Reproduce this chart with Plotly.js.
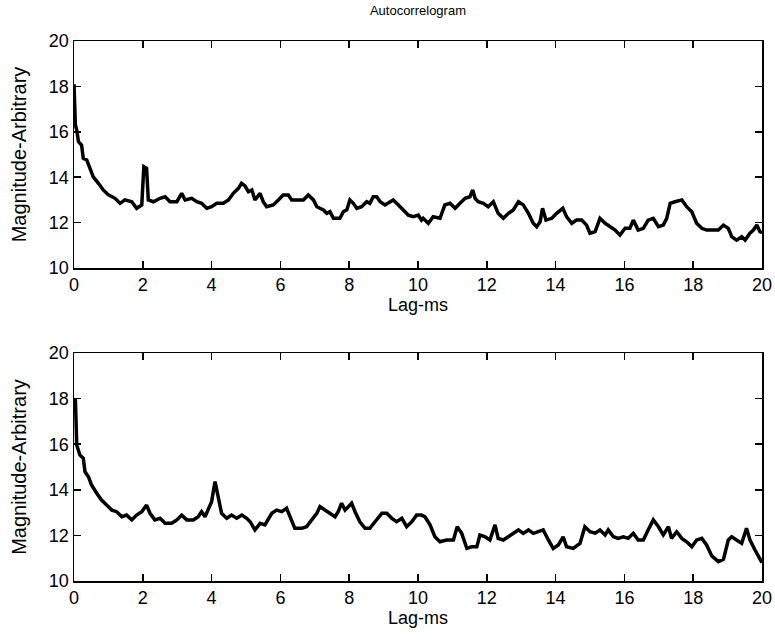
<!DOCTYPE html>
<html>
<head>
<meta charset="utf-8">
<script src="https://cdn.plot.ly/plotly-3.0.1.min.js"></script>
<style>html,body{margin:0;padding:0;background:#fff;}#chart{width:775px;height:644px;}</style>
</head>
<body>
<div id="chart"></div>
<script>
// Upper panel: lag (ms) and magnitude
const lagTop = [0.00,0.04,0.08,0.13,0.22,0.27,0.37,0.47,0.56,0.71,0.85,1.00,1.19,1.34,1.48,1.68,1.82,1.97,2.03,2.11,2.16,2.31,2.50,2.65,2.79,2.99,3.13,3.23,3.42,3.57,3.71,3.86,4.00,4.15,4.34,4.49,4.63,4.78,4.87,4.97,
5.07,5.17,5.26,5.41,5.50,5.60,5.79,5.94,6.08,6.23,6.33,6.67,6.81,6.96,7.06,7.25,7.35,7.44,7.54,7.73,7.83,7.93,8.02,8.12,8.22,8.36,8.51,8.60,8.70,8.80,8.90,9.04,9.19,9.28,9.43,9.57,9.72,9.86,10.01,10.10,
10.15,10.30,10.44,10.64,10.78,10.93,11.08,11.22,11.37,11.51,11.59,11.66,11.75,11.90,12.04,12.19,12.33,12.48,12.63,12.77,12.92,13.06,13.21,13.35,13.45,13.55,13.62,13.72,13.89,14.03,14.21,14.32,14.47,14.61,14.76,14.90,15.00,15.15,
15.29,15.44,15.58,15.73,15.87,16.02,16.16,16.26,16.40,16.55,16.69,16.84,16.99,17.13,17.23,17.33,17.47,17.67,17.81,17.96,18.10,18.25,18.39,18.59,18.73,18.88,19.02,19.12,19.26,19.41,19.51,19.65,19.75,19.85,19.94,20.00];
const magTop = [18.1,16.3,16.08,15.56,15.42,14.83,14.76,14.32,14.02,13.73,13.44,13.22,13.07,12.85,13.0,12.92,12.63,12.78,14.46,14.39,13.0,12.92,13.07,13.14,12.92,12.92,13.29,13.0,13.07,12.92,12.85,12.63,12.7,12.85,12.85,13.0,13.29,13.51,13.73,13.62,
13.36,13.44,13.0,13.29,12.92,12.7,12.78,13.0,13.22,13.22,13.0,13.0,13.22,13.0,12.7,12.56,12.41,12.48,12.19,12.19,12.48,12.56,13.0,12.85,12.63,12.7,12.92,12.85,13.14,13.14,12.92,12.78,12.92,13.0,12.78,12.56,12.33,12.26,12.33,12.11,
12.19,11.97,12.26,12.19,12.78,12.85,12.63,12.85,13.07,13.14,13.44,13.07,12.92,12.85,12.7,12.92,12.41,12.19,12.41,12.56,12.92,12.78,12.41,11.97,11.82,12.04,12.63,12.11,12.19,12.41,12.63,12.26,11.97,12.11,12.11,11.89,11.53,11.6,
12.19,11.97,11.82,11.67,11.45,11.75,11.75,12.11,11.67,11.75,12.11,12.19,11.82,11.89,12.19,12.85,12.92,13.0,12.7,12.48,11.97,11.75,11.67,11.67,11.67,11.89,11.75,11.38,11.23,11.38,11.23,11.53,11.67,11.89,11.6,11.55];

// Lower panel: lag (ms) and magnitude
const lagBottom = [0.00,0.04,0.08,0.17,0.27,0.32,0.42,0.51,0.66,0.80,0.95,1.10,1.24,1.39,1.53,1.68,1.82,1.97,2.11,2.21,2.35,2.50,2.65,2.84,2.99,3.13,3.28,3.47,3.61,3.71,3.81,3.90,4.00,4.10,4.19,4.29,4.44,4.58,4.73,4.88,
5.02,5.12,5.26,5.41,5.55,5.75,5.89,6.04,6.18,6.28,6.42,6.62,6.76,6.91,7.06,7.15,7.30,7.44,7.59,7.68,7.78,7.88,7.97,8.07,8.17,8.31,8.46,8.60,8.75,8.95,9.09,9.24,9.38,9.53,9.67,9.82,9.96,10.10,
10.20,10.35,10.49,10.64,10.83,11.03,11.14,11.27,11.42,11.56,11.71,11.80,11.95,12.09,12.24,12.33,12.48,12.63,12.77,12.92,13.06,13.21,13.35,13.50,13.64,13.79,13.93,14.08,14.22,14.32,14.51,14.71,14.85,15.00,15.15,
15.29,15.44,15.53,15.68,15.82,15.97,16.11,16.26,16.40,16.55,16.69,16.84,16.99,17.13,17.28,17.37,17.52,17.67,17.81,17.96,18.10,18.25,18.39,18.54,18.73,18.88,19.02,19.12,19.26,19.41,19.55,19.65,19.80,19.90,20.00];
const magBottom = [17.6,18.0,15.96,15.53,15.38,14.79,14.57,14.21,13.85,13.55,13.33,13.11,13.04,12.82,12.89,12.68,12.89,13.04,13.33,12.97,12.68,12.75,12.53,12.53,12.68,12.89,12.68,12.68,12.82,13.04,12.82,13.11,13.48,14.36,13.63,12.97,12.75,12.89,12.75,12.89,
12.75,12.6,12.24,12.53,12.46,12.97,13.11,13.04,13.19,12.82,12.31,12.31,12.38,12.68,12.97,13.26,13.11,12.97,12.82,13.04,13.41,13.11,13.26,13.41,13.04,12.6,12.31,12.31,12.6,12.97,12.97,12.75,12.6,12.75,12.38,12.6,12.89,12.89,
12.82,12.46,11.94,11.72,11.8,11.8,12.38,12.09,11.43,11.5,11.5,12.02,11.94,11.8,12.46,11.87,11.8,11.94,12.09,12.24,12.09,12.24,12.09,12.16,12.24,11.8,11.43,11.58,11.94,11.5,11.43,11.65,12.38,12.16,12.1,
12.24,12.02,12.24,11.94,11.87,11.94,11.87,12.09,11.8,11.8,12.24,12.68,12.38,12.02,12.38,11.87,12.16,11.87,11.72,11.5,11.8,11.87,11.58,11.1,10.85,10.95,11.8,11.94,11.8,11.65,12.31,11.8,11.35,11.1,10.8];

const xTicks = [0,2,4,6,8,10,12,14,16,18,20];
const yTicks = [10,12,14,16,18,20];

const FONT = '"Liberation Sans", Arial, Helvetica, sans-serif';

function axisX(anchor) {
  return {
    anchor: anchor, range: [0, 20], tickvals: xTicks, ticktext: xTicks.map(String),
    ticks: 'inside', ticklen: 7, tickwidth: 1.5, tickcolor: '#000',
    showline: true, linecolor: '#000', linewidth: 1.5, mirror: 'ticks',
    showgrid: false, zeroline: false, fixedrange: true,
    tickfont: {family: FONT, size: 18, color: '#000'},
    title: {text: 'Lag-ms', font: {family: FONT, size: 18, color: '#000'}, standoff: 2}
  };
}
function axisY(anchor, domain) {
  return {
    anchor: anchor, domain: domain, range: [10, 20], tickvals: yTicks, ticktext: yTicks.map(String),
    ticks: 'inside', ticklen: 7, tickwidth: 1.5, tickcolor: '#000',
    showline: true, linecolor: '#000', linewidth: 1.5, mirror: 'ticks',
    showgrid: false, zeroline: false, fixedrange: true,
    tickfont: {family: FONT, size: 18, color: '#000'},
    title: {text: 'Magnitude-Arbitrary', font: {family: FONT, size: 20, color: '#000'}, standoff: 17}
  };
}

const traces = [
  {x: lagTop, y: magTop, xaxis: 'x', yaxis: 'y', type: 'scatter', mode: 'lines',
   line: {color: '#000', width: 3.5}, hoverinfo: 'skip'},
  {x: lagBottom, y: magBottom, xaxis: 'x2', yaxis: 'y2', type: 'scatter', mode: 'lines',
   line: {color: '#000', width: 3.5}, hoverinfo: 'skip'}
];

const layout = {
  width: 775, height: 644,
  margin: {l: 74, r: 13, t: 41, b: 63},
  paper_bgcolor: '#fff', plot_bgcolor: '#fff',
  showlegend: false,
  title: {text: 'Autocorrelogram', font: {family: FONT, size: 13, color: '#000'},
          x: 0.5393, xanchor: 'center', y: 0.984, yanchor: 'middle', yref: 'container'},
  xaxis: axisX('y'),
  yaxis: axisY('x', [0.5796, 1]),
  xaxis2: axisX('y2'),
  yaxis2: axisY('x2', [0, 0.4222])
};

Plotly.newPlot('chart', traces, layout, {displayModeBar: false, staticPlot: true});
</script>
</body>
</html>
